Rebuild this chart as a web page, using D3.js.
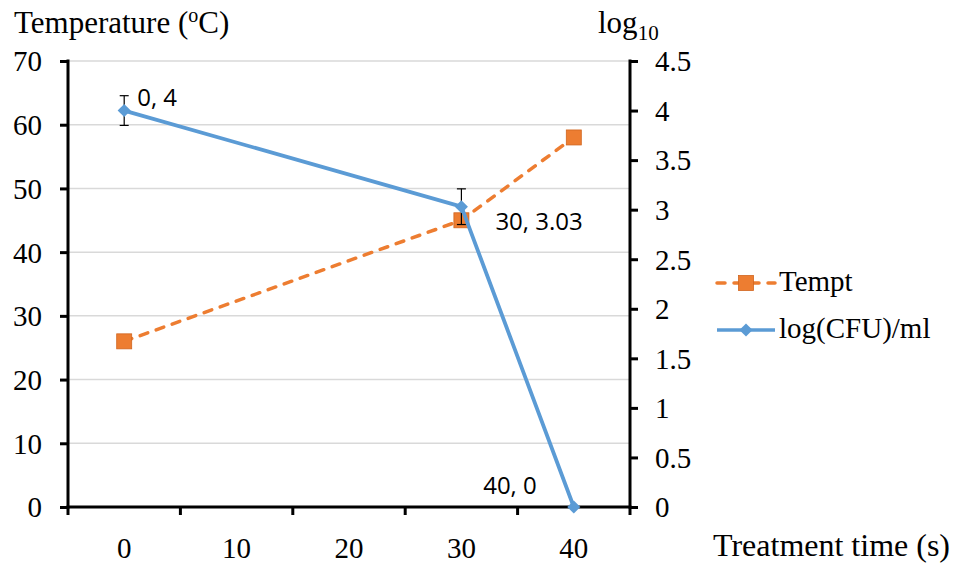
<!DOCTYPE html>
<html>
<head>
<meta charset="utf-8">
<script src="https://cdn.jsdelivr.net/npm/d3@7/dist/d3.min.js"></script>
<style>
  html, body { margin: 0; padding: 0; background: #fff; }
  svg { display: block; }
</style>
</head>
<body>
<svg id="chart" width="954" height="565"></svg>
<script>
// Treatment time categories (s)
const timeCategories = ["0", "10", "20", "30", "40"];

// Temperature (°C) measured at each sampled time
const temptTimes = ["0", "30", "40"];
const temptValues = [26, 45, 58];

// log10 CFU/ml at each sampled time, with error half-widths
const logTimes = ["0", "30", "40"];
const logValues = [4, 3.03, 0];
const logErrors = [0.15, 0.18, 0];

// Point labels on the log series
const logLabels = ["0, 4", "30, 3.03", "40, 0"];

// Axis tick values
const leftTicks = [0, 10, 20, 30, 40, 50, 60, 70];
const rightTicks = [0, 0.5, 1, 1.5, 2, 2.5, 3, 3.5, 4, 4.5];

const ORANGE = "#ED7D31";
const BLUE = "#5B9BD5";
const SERIF = "'Liberation Serif', 'Times New Roman', Times, serif";
const SANS = "'Open Sans', 'Liberation Sans', sans-serif";

const plot = { left: 68, right: 630, top: 61, bottom: 507 };

const svg = d3.select("#chart");

const x = d3.scaleBand()
  .domain(timeCategories)
  .range([plot.left, plot.right])
  .paddingInner(0)
  .paddingOuter(0);
const cx = d => x(d) + x.bandwidth() / 2;

const yL = d3.scaleLinear().domain([0, 70]).range([plot.bottom, plot.top]);
const yR = d3.scaleLinear().domain([0, 4.5]).range([plot.bottom, plot.top]);

function serifText(sel, size) {
  return sel.style("font-family", SERIF).style("font-size", size + "px").attr("fill", "#000");
}

// Horizontal gridlines
svg.append("g")
  .selectAll("line")
  .data(leftTicks.filter(t => t > 0))
  .join("line")
  .attr("x1", plot.left).attr("x2", plot.right)
  .attr("y1", d => yL(d)).attr("y2", d => yL(d))
  .attr("stroke", "#d9d9d9").attr("stroke-width", 1.5);

// Left axis
const leftAxis = svg.append("g")
  .attr("transform", `translate(${plot.left},0)`)
  .call(d3.axisLeft(yL).tickValues(leftTicks).tickSize(8).tickPadding(18).tickFormat(d3.format("d")));
leftAxis.attr("font-family", null).attr("font-size", null);
leftAxis.select(".domain").attr("stroke", "#000").attr("stroke-width", 3)
  .attr("d", `M0,${plot.top - 1.5}V${plot.bottom + 1.5}`);
leftAxis.selectAll(".tick line").attr("stroke", "#000").attr("stroke-width", 3);
serifText(leftAxis.selectAll(".tick text"), 29).attr("dy", "0.34em");

// Right axis
const rightAxis = svg.append("g")
  .attr("transform", `translate(${plot.right},0)`)
  .call(d3.axisRight(yR).tickValues(rightTicks).tickSize(8).tickPadding(17).tickFormat(d => String(d)));
rightAxis.attr("font-family", null).attr("font-size", null);
rightAxis.select(".domain").attr("stroke", "#000").attr("stroke-width", 3)
  .attr("d", `M0,${plot.top - 1.5}V${plot.bottom + 1.5}`);
rightAxis.selectAll(".tick line").attr("stroke", "#000").attr("stroke-width", 3);
serifText(rightAxis.selectAll(".tick text"), 29).attr("dy", "0.34em");

// Bottom axis: tick marks sit on category boundaries, labels at centres
const bottom = svg.append("g");
bottom.append("line")
  .attr("x1", plot.left - 1.5).attr("x2", plot.right + 1.5)
  .attr("y1", plot.bottom).attr("y2", plot.bottom)
  .attr("stroke", "#000").attr("stroke-width", 3);
const boundaries = timeCategories.map(c => x(c)).concat([x(timeCategories[timeCategories.length - 1]) + x.bandwidth()]);
bottom.selectAll("line.tk")
  .data(boundaries)
  .join("line")
  .attr("class", "tk")
  .attr("x1", d => d).attr("x2", d => d)
  .attr("y1", plot.bottom).attr("y2", plot.bottom + 8)
  .attr("stroke", "#000").attr("stroke-width", 3);
serifText(bottom.selectAll("text")
  .data(timeCategories)
  .join("text")
  .attr("x", d => cx(d))
  .attr("y", 558)
  .attr("text-anchor", "middle"), 29)
  .text(d => d);

// Axis titles
const t1 = serifText(svg.append("text").attr("x", 14).attr("y", 33), 31);
t1.append("tspan").text("Temperature (");
t1.append("tspan").attr("dy", -11).style("font-size", "20px").text("o");
t1.append("tspan").attr("dy", 11).text("C)");

const t2 = serifText(svg.append("text").attr("x", 598).attr("y", 33), 31);
t2.append("tspan").text("log");
t2.append("tspan").attr("dy", 7).style("font-size", "21px").text("10");

serifText(svg.append("text")
  .attr("x", 950).attr("y", 556).attr("text-anchor", "end"), 32)
  .text("Treatment time (s)");

// Temperature series: dashed line with square markers
const temptData = temptTimes.map((t, i) => ({ t, v: temptValues[i] }));
svg.append("path")
  .datum(temptData)
  .attr("fill", "none")
  .attr("stroke", ORANGE)
  .attr("stroke-width", 3.5)
  .attr("stroke-dasharray", "8,9")
  .attr("stroke-linecap", "round")
  .attr("d", d3.line().x(d => cx(d.t)).y(d => yL(d.v)));
svg.append("g").selectAll("rect")
  .data(temptData)
  .join("rect")
  .attr("x", d => cx(d.t) - 7.5).attr("y", d => yL(d.v) - 7.5)
  .attr("width", 15).attr("height", 15)
  .attr("fill", ORANGE).attr("stroke", "#d0651f").attr("stroke-width", 0.8);

// Error bars on the log series
const logData = logTimes.map((t, i) => ({ t, v: logValues[i], e: logErrors[i], label: logLabels[i] }));
const eb = svg.append("g").attr("stroke", "#000").attr("stroke-width", 1.2);
logData.filter(d => d.e > 0).forEach(d => {
  const px = cx(d.t), y0 = yR(d.v - d.e), y1 = yR(d.v + d.e);
  eb.append("line").attr("x1", px).attr("x2", px).attr("y1", y0).attr("y2", y1);
  eb.append("line").attr("x1", px - 4.5).attr("x2", px + 4.5).attr("y1", y0).attr("y2", y0);
  eb.append("line").attr("x1", px - 4.5).attr("x2", px + 4.5).attr("y1", y1).attr("y2", y1);
});

// log(CFU)/ml series: solid line with diamond markers
svg.append("path")
  .datum(logData)
  .attr("fill", "none")
  .attr("stroke", BLUE)
  .attr("stroke-width", 3.8)
  .attr("stroke-linejoin", "round")
  .attr("d", d3.line().x(d => cx(d.t)).y(d => yR(d.v)));
const diamond = d3.symbol().type(d3.symbolDiamond2).size(110);
svg.append("g").selectAll("path")
  .data(logData)
  .join("path")
  .attr("transform", d => `translate(${cx(d.t)},${yR(d.v)})`)
  .attr("d", diamond)
  .attr("fill", BLUE);

// Point labels
const labelPos = [
  { dx: 13, dy: -5, anchor: "start" },
  { dx: 34, dy: 23, anchor: "start" },
  { dx: -37, dy: -13, anchor: "end" }
];
svg.append("g").selectAll("text")
  .data(logData)
  .join("text")
  .attr("x", (d, i) => cx(d.t) + labelPos[i].dx)
  .attr("y", (d, i) => yR(d.v) + labelPos[i].dy)
  .attr("text-anchor", (d, i) => labelPos[i].anchor)
  .attr("fill", "#000")
  .style("font-family", SANS)
  .style("font-size", "24px")
  .text(d => d.label);

// Legend
const legend = svg.append("g");
const lgX0 = 717, lgX1 = 775, lgMid = 746;
const lgRows = [
  { name: "Tempt", y: 283, color: ORANGE, dash: "8,9", marker: "square" },
  { name: "log(CFU)/ml", y: 330, color: BLUE, dash: null, marker: "diamond" }
];
lgRows.forEach(r => {
  legend.append("line")
    .attr("x1", lgX0).attr("x2", lgX1).attr("y1", r.y).attr("y2", r.y)
    .attr("stroke", r.color).attr("stroke-width", 3.5)
    .attr("stroke-dasharray", r.dash)
    .attr("stroke-linecap", r.dash ? "round" : "butt");
  if (r.marker === "square") {
    legend.append("rect")
      .attr("x", lgMid - 7.5).attr("y", r.y - 7.5).attr("width", 15).attr("height", 15)
      .attr("fill", r.color).attr("stroke", "#d0651f").attr("stroke-width", 0.8);
  } else {
    legend.append("path")
      .attr("transform", `translate(${lgMid},${r.y})`)
      .attr("d", diamond).attr("fill", r.color);
  }
  serifText(legend.append("text")
    .attr("x", 779).attr("y", r.y + 8), 29)
    .text(r.name);
});
</script>
</body>
</html>
